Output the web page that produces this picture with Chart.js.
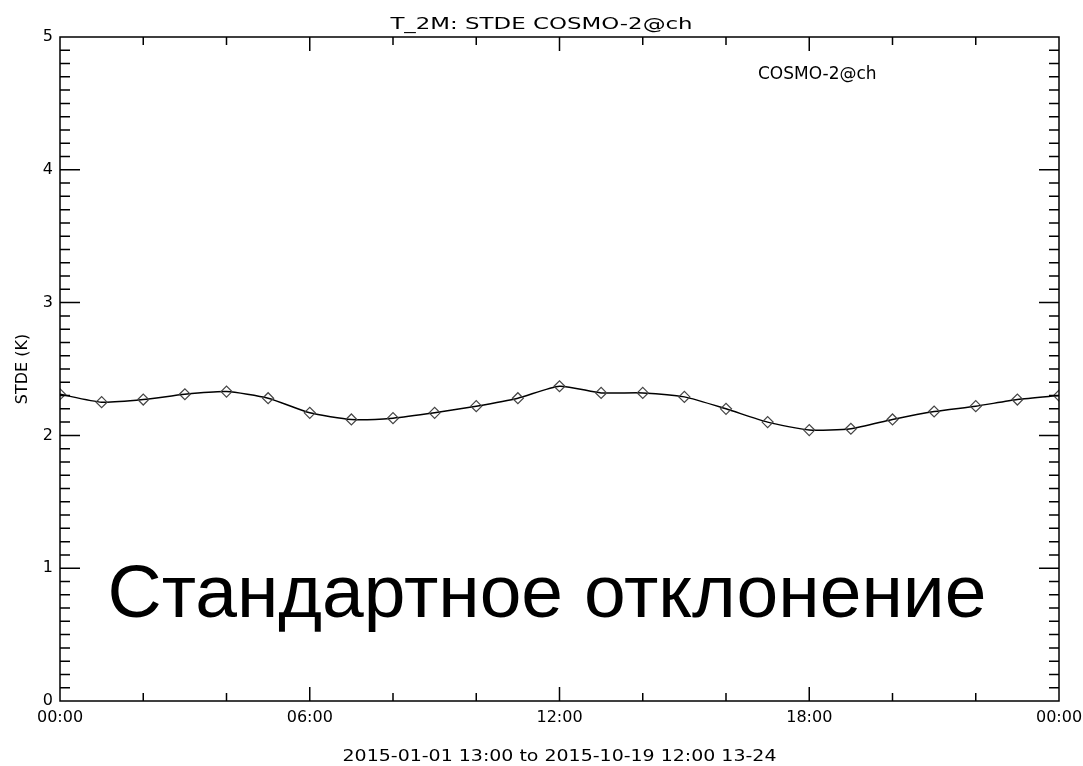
<!DOCTYPE html>
<html><head><meta charset="utf-8">
<script src="https://cdn.jsdelivr.net/npm/chart.js@4"></script>
<style>html,body{margin:0;padding:0;background:#fff}canvas{display:block}</style>
</head><body>
<canvas id="c" width="1083" height="766"></canvas>
<script>
// ---- data ----
const hours = [0,1,2,3,4,5,6,7,8,9,10,11,12,13,14,15,16,17,18,19,20,21,22,23,24];
const stde  = [2.31,2.25,2.27,2.31,2.33,2.28,2.17,2.12,2.13,2.17,2.22,2.28,2.37,2.32,2.32,2.29,2.20,2.10,2.04,2.05,2.12,2.18,2.22,2.27,2.30];
const xTickValues = [0,6,12,18,24];
const xTickLabels = ['00:00','06:00','12:00','18:00','00:00'];
const yTickLabels = ['0','1','2','3','4','5'];
const chartTitle = 'T_2M: STDE COSMO-2@ch';
const seriesName = 'COSMO-2@ch';
const xAxisTitle = '2015-01-01 13:00 to 2015-10-19 12:00 13-24';
const yAxisTitle = 'STDE (K)';
const overlayText = 'Стандартное отклонение';

const IDL_FONT = '"DejaVu Sans"';

function stretchText(ctx, text, x, y, sx, align) {
  ctx.save();
  ctx.translate(x, y);
  ctx.scale(sx, 1);
  ctx.textAlign = align;
  ctx.textBaseline = 'alphabetic';
  ctx.fillText(text, 0, 0);
  ctx.restore();
}

const idlPlugin = {
  id: 'idl',
  afterDraw(chart) {
    const {ctx, chartArea: a, scales: {x, y}} = chart;
    ctx.save();
    ctx.strokeStyle = '#000';
    ctx.lineWidth = 1.5;
    ctx.strokeRect(a.left, a.top, a.right - a.left, a.bottom - a.top);
    ctx.beginPath();
    for (let i = 1; i < 50; i++) {
      const py = y.getPixelForValue(i / 10);
      const len = (i % 10 === 0) ? 20 : 10;
      ctx.moveTo(a.left, py); ctx.lineTo(a.left + len, py);
      ctx.moveTo(a.right, py); ctx.lineTo(a.right - len, py);
    }
    for (let h = 2; h < 24; h += 2) {
      const px = x.getPixelForValue(h);
      const len = (h % 6 === 0) ? 14 : 8;
      ctx.moveTo(px, a.bottom); ctx.lineTo(px, a.bottom - len);
      ctx.moveTo(px, a.top); ctx.lineTo(px, a.top + len);
    }
    ctx.stroke();

    ctx.fillStyle = '#000';
    ctx.font = '16px ' + IDL_FONT;
    stretchText(ctx, chartTitle, chart.width / 2, 29, 1.43, 'center');
    ctx.font = '17px ' + IDL_FONT;
    stretchText(ctx, seriesName, 758, 79, 1, 'left');
    ctx.font = '16px ' + IDL_FONT;
    stretchText(ctx, xAxisTitle, (a.left + a.right) / 2, 761, 1.185, 'center');
    ctx.save();
    ctx.translate(27, (a.top + a.bottom) / 2);
    ctx.rotate(-Math.PI / 2);
    ctx.textAlign = 'center';
    ctx.textBaseline = 'alphabetic';
    ctx.fillText(yAxisTitle, 0, 0);
    ctx.restore();
    ctx.font = '75px "Liberation Sans"';
    stretchText(ctx, overlayText, 547, 617, 1, 'center');
    ctx.restore();
  }
};

new Chart(document.getElementById('c'), {
  type: 'line',
  data: {
    datasets: [{
      label: seriesName,
      data: hours.map((h, i) => ({x: h, y: stde[i]})),
      borderColor: '#000',
      borderWidth: 1.5,
      tension: 0.2,
      pointStyle: 'rectRot',
      pointRadius: 5.5,
      pointHoverRadius: 5.5,
      pointBorderColor: '#444',
      pointBorderWidth: 1.2,
      pointBackgroundColor: 'rgba(0,0,0,0)'
    }]
  },
  options: {
    responsive: false,
    devicePixelRatio: 1,
    animation: false,
    events: [],
    layout: {padding: {top: 37, right: 24, left: 0, bottom: 0}},
    plugins: {legend: {display: false}, title: {display: false}, tooltip: {enabled: false}},
    scales: {
      x: {
        type: 'linear', min: 0, max: 24,
        afterFit: s => { s.height = 65; s.paddingLeft = 0; s.paddingRight = 0; },
        afterBuildTicks: s => { s.ticks = xTickValues.map(v => ({value: v})); },
        grid: {display: false, drawTicks: false},
        border: {display: false},
        ticks: {
          autoSkip: false, maxRotation: 0, padding: 7,
          color: '#000', font: {family: 'DejaVu Sans', size: 16},
          callback: (v) => { const i = xTickValues.indexOf(v); return i >= 0 ? xTickLabels[i] : ''; }
        }
      },
      y: {
        type: 'linear', min: 0, max: 5,
        afterFit: s => { s.width = 60; s.paddingTop = 0; s.paddingBottom = 0; },
        grid: {display: false, drawTicks: false},
        border: {display: false},
        ticks: {
          stepSize: 1, padding: 7,
          color: '#000', font: {family: 'DejaVu Sans', size: 16},
          callback: (v) => yTickLabels[Math.round(v)] ?? ''
        }
      }
    }
  },
  plugins: [idlPlugin]
});
</script>
</body></html>
